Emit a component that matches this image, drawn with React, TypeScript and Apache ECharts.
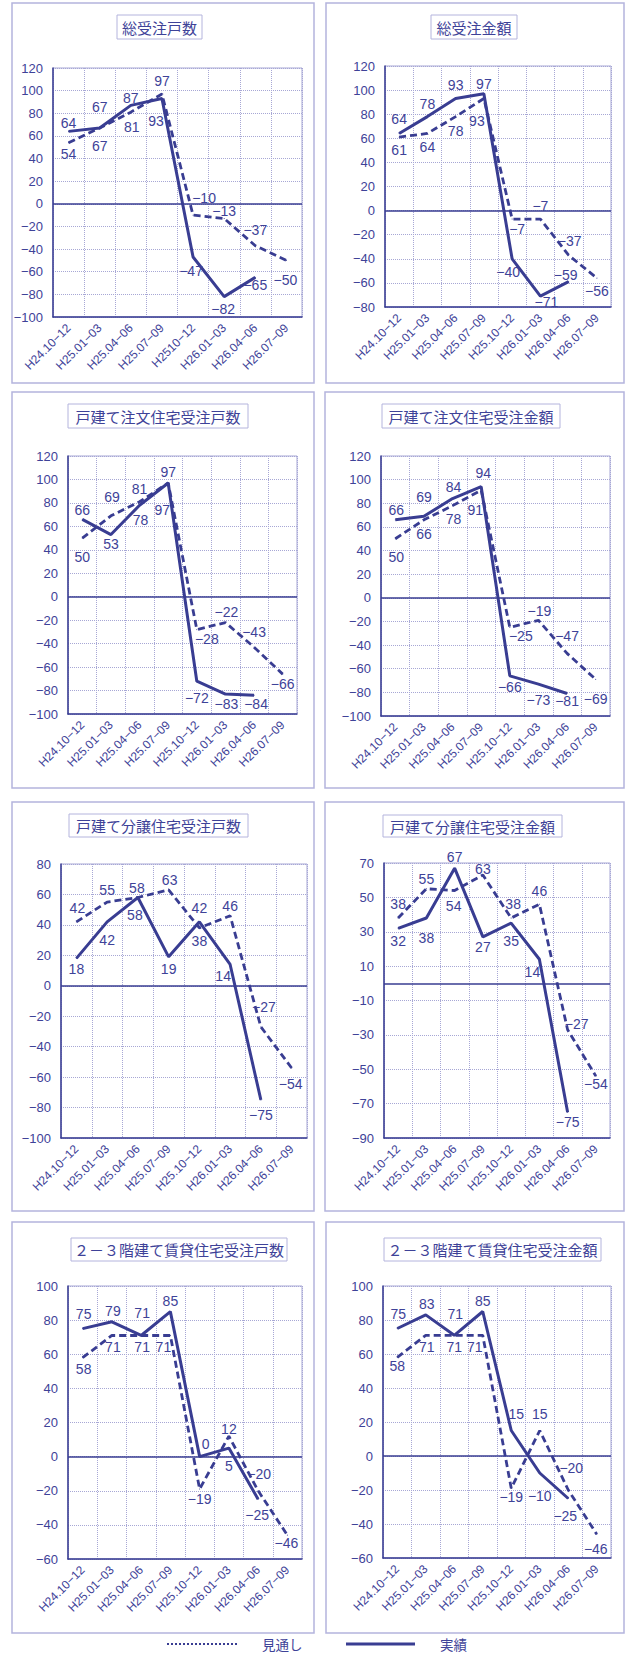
import React, { useEffect, useRef } from "react";
import * as echarts from "echarts";

// ---------- data ----------
const categories = ["H24.10−12", "H25.01−03", "H25.04−06", "H25.07−09", "H25.10−12", "H26.01−03", "H26.04−06", "H26.07−09"];
const categoriesChart1 = ["H24.10−12", "H25.01−03", "H25.04−06", "H25.07−09", "H2510−12", "H26.01−03", "H26.04−06", "H26.07−09"];

const titles = [
  "総受注戸数",
  "総受注金額",
  "戸建て注文住宅受注戸数",
  "戸建て注文住宅受注金額",
  "戸建て分譲住宅受注戸数",
  "戸建て分譲住宅受注金額",
  "２－３階建て賃貸住宅受注戸数",
  "２－３階建て賃貸住宅受注金額",
];

const legendNames = ["見通し", "実績"];

// 実績 (actual) and 見通し (forecast)
const totalUnitsActual = [64, 67, 87, 93, -47, -82, -65, null];
const totalUnitsForecast = [54, 67, 81, 97, -10, -13, -37, -50];
const totalAmountActual = [64, 78, 93, 97, -40, -71, -59, null];
const totalAmountForecast = [61, 64, 78, 93, -7, -7, -37, -56];
const customUnitsActual = [66, 53, 78, 97, -72, -83, -84, null];
const customUnitsForecast = [50, 69, 81, 97, -28, -22, -43, -66];
const customAmountActual = [66, 69, 84, 94, -66, -73, -81, null];
const customAmountForecast = [50, 66, 78, 91, -25, -19, -47, -69];
const specUnitsActual = [18, 42, 58, 19, 42, 14, -75, null];
const specUnitsForecast = [42, 55, 58, 63, 38, 46, -27, -54];
const specAmountActual = [32, 38, 67, 27, 35, 14, -75, null];
const specAmountForecast = [38, 55, 54, 63, 38, 46, -27, -54];
const rentalUnitsActual = [75, 79, 71, 85, 0, 5, -25, null];
const rentalUnitsForecast = [58, 71, 71, 71, -19, 12, -20, -46];
const rentalAmountActual = [75, 83, 71, 85, 15, -10, -25, null];
const rentalAmountForecast = [58, 71, 71, 71, -19, 15, -20, -46];

// ---------- layout / style ----------
type Off = [number, number] | null;
interface Panel {
  title: string;
  cats: string[];
  actual: (number | null)[];
  forecast: (number | null)[];
  yMin: number;
  yMax: number;
  box: number[];
  titleBox: number[];
  grid: number[];
  offA: Off[];
  offF: Off[];
}

const panels: Panel[] = [
  {
    title: titles[0], cats: categoriesChart1, actual: totalUnitsActual, forecast: totalUnitsForecast,
    yMin: -100, yMax: 120, box: [12, 3, 302, 380], titleBox: [117, 15, 85, 24], grid: [53, 68, 249, 249],
    offA: [[0, -8], [0, -21], [0, -7], [-6, 22], [-2, 14], [-1, 12], [0, 8], null],
    offF: [[0, 11], [0, 18], [1, 15], [0, -13], [11, -17], [0, -8], [0, -16], [-1, 20]],
  },
  {
    title: titles[1], cats: categories, actual: totalAmountActual, forecast: totalAmountForecast,
    yMin: -80, yMax: 120, box: [326, 3, 298, 380], titleBox: [431, 15, 86, 24], grid: [385, 66, 226, 241],
    offA: [[0, -14], [0, -13], [0, -14], [0, -10], [-4, 13], [6, 6], [-3, -7], null],
    offF: [[0, 13], [0, 14], [0, 14], [-7, 22], [5, 10], [0, -13], [1, -14], [0, 13]],
  },
  {
    title: titles[2], cats: categories, actual: customUnitsActual, forecast: customUnitsForecast,
    yMin: -100, yMax: 120, box: [12, 392, 302, 396], titleBox: [68, 404, 180, 24], grid: [68, 456, 229, 258],
    offA: [[0, -9], [0, 9], [1, 15], [0, -11], [0, 17], [1, 10], [2, 9], null],
    offF: [[0, 19], [1, -19], [0, -13], [-6, 27], [10, 9], [1, -11], [0, -15], [0, 10]],
  },
  {
    title: titles[3], cats: categories, actual: customAmountActual, forecast: customAmountForecast,
    yMin: -100, yMax: 120, box: [325, 392, 299, 396], titleBox: [382, 404, 178, 24], grid: [381, 456, 229, 260],
    offA: [[1, -10], [0, -19], [1, -12], [2, -14], [0, 11], [0, 16], [0, 7], null],
    offF: [[1, 18], [0, 14], [1, 13], [-6, 20], [11, 9], [1, -9], [0, -17], [0, 20]],
  },
  {
    title: titles[4], cats: categories, actual: specUnitsActual, forecast: specUnitsForecast,
    yMin: -100, yMax: 80, box: [12, 802, 302, 409], titleBox: [69, 814, 179, 23], grid: [61, 864, 246, 274],
    offA: [[0, 11], [0, 18], [-3, 18], [0, 12], [0, -14], [-7, 12], [0, 15], null],
    offF: [[1, -14], [0, -12], [-1, -9], [1, -10], [0, 13], [0, -10], [3, -20], [-1, 16]],
  },
  {
    title: titles[5], cats: categories, actual: specAmountActual, forecast: specAmountForecast,
    yMin: -90, yMax: 70, box: [325, 802, 299, 409], titleBox: [383, 815, 179, 22], grid: [384, 863, 226, 275],
    offA: [[0, 13], [0, 20], [0, -11], [0, 10], [0, 18], [-7, 13], [0, 10], null],
    offF: [[0, -14], [0, -10], [-1, 15], [0, -6], [2, -14], [0, -13], [9, -6], [0, 8]],
  },
  {
    title: titles[6], cats: categories, actual: rentalUnitsActual, forecast: rentalUnitsForecast,
    yMin: -60, yMax: 100, box: [12, 1222, 302, 411], titleBox: [71, 1238, 216, 23], grid: [68, 1286, 234, 273],
    offA: [[1, -15], [1, -11], [1, -22], [0, -11], [6, -13], [0, 18], [-1, 16], null],
    offF: [[1, 11], [1, 12], [1, 12], [-7, 12], [0, 10], [0, -7], [1, -17], [-1, 8]],
  },
  {
    title: titles[7], cats: categories, actual: rentalAmountActual, forecast: rentalAmountForecast,
    yMin: -60, yMax: 100, box: [326, 1222, 298, 411], titleBox: [384, 1238, 217, 23], grid: [383, 1286, 228, 272],
    offA: [[1, -15], [1, -11], [1, -21], [0, -11], [5, -17], [0, 23], [-3, 17], null],
    offF: [[0, 9], [1, 12], [0, 12], [-8, 12], [0, 9], [0, -17], [3, -22], [-1, 15]],
  },
];

const W = 625;
const H = 1656;
const NAVY = "#393d92";
const TEXT = "#3e4298";
const GRIDC = "#a7a7d5";
const FRAME = "#b4b4dd";
const NUMFONT = "'Liberation Sans', Arial, 'Noto Sans CJK JP', sans-serif";
const JFONT = "'Noto Sans CJK JP', 'Noto Sans', sans-serif";
const LEGEND_Y = 1644;

const fmt = (v: any) => {
  const n = Number(v);
  return n < 0 ? "−" + Math.abs(n) : String(n);
};

function buildOption() {
  const grid: any[] = [];
  const xAxis: any[] = [];
  const yAxis: any[] = [];
  const series: any[] = [];
  const graphic: any[] = [];

  panels.forEach((p, i) => {
    grid.push({
      left: p.grid[0], top: p.grid[1], width: p.grid[2], height: p.grid[3],
      show: true, borderColor: GRIDC, borderWidth: 1, backgroundColor: "transparent",
    });
    xAxis.push({
      type: "category", gridIndex: i, data: p.cats, boundaryGap: true,
      axisLine: { onZero: false, lineStyle: { color: NAVY, width: 1.5 } },
      axisTick: { show: false },
      axisLabel: { interval: 0, rotate: 45, fontSize: 12, color: TEXT, margin: 9, fontFamily: NUMFONT },
      splitLine: { show: true, interval: 0, lineStyle: { color: GRIDC, type: "dotted", width: 1 } },
    });
    yAxis.push({
      type: "value", gridIndex: i, min: p.yMin, max: p.yMax, interval: 20,
      axisLine: { show: true, lineStyle: { color: NAVY, width: 1.5 } },
      axisTick: { show: false },
      axisLabel: { fontSize: 13, color: TEXT, margin: 10, fontFamily: NUMFONT, formatter: fmt },
      splitLine: { show: true, lineStyle: { color: GRIDC, type: "dotted", width: 1 } },
    });

    const mk = (name: string, vals: (number | null)[], offs: Off[], dashed: boolean) => ({
      type: "line",
      name,
      xAxisIndex: i,
      yAxisIndex: i,
      data: vals.map((v, k) =>
        v == null ? "-" : { value: v, label: { offset: offs[k] || [0, 0] } }
      ),
      symbol: "circle",
      symbolSize: 1,
      showSymbol: true,
      silent: true,
      itemStyle: { color: NAVY },
      lineStyle: { color: NAVY, width: dashed ? 2.8 : 3, type: dashed ? [7, 4] : "solid" },
      label: {
        show: true, position: "inside", fontSize: 14, color: TEXT, fontFamily: NUMFONT,
        formatter: (pp: any) => fmt(pp.value),
      },
      emphasis: { disabled: true },
      z: dashed ? 3 : 4,
      ...(dashed
        ? {
            markLine: {
              silent: true, symbol: "none", label: { show: false },
              lineStyle: { color: NAVY, width: 1.5, type: "solid" },
              data: [{ yAxis: 0 }],
            },
          }
        : {}),
    });
    series.push(mk(legendNames[0], p.forecast, p.offF, true));
    series.push(mk(legendNames[1], p.actual, p.offA, false));

    graphic.push({
      type: "rect", silent: true,
      shape: { x: p.box[0], y: p.box[1], width: p.box[2], height: p.box[3] },
      style: { fill: "rgba(0,0,0,0)", stroke: FRAME, lineWidth: 1.5 },
    });
    graphic.push({
      type: "rect", silent: true,
      shape: { x: p.titleBox[0], y: p.titleBox[1], width: p.titleBox[2], height: p.titleBox[3] },
      style: { fill: "#ffffff", stroke: FRAME, lineWidth: 1 },
    });
    graphic.push({
      type: "text", silent: true,
      style: {
        text: p.title,
        x: p.titleBox[0] + p.titleBox[2] / 2,
        y: p.titleBox[1] + p.titleBox[3] / 2,
        align: "center", verticalAlign: "middle",
        textAlign: "center", textVerticalAlign: "middle",
        fill: TEXT, fontSize: 15, fontFamily: JFONT,
      },
    });
  });

  // legend
  graphic.push({
    type: "line", silent: true,
    shape: { x1: 167, y1: LEGEND_Y, x2: 237, y2: LEGEND_Y },
    style: { stroke: NAVY, lineWidth: 2, lineDash: [2, 2] },
  });
  graphic.push({
    type: "text", silent: true,
    style: {
      text: legendNames[0], x: 262, y: LEGEND_Y, align: "left", verticalAlign: "middle",
      textAlign: "left", textVerticalAlign: "middle", fill: TEXT, fontSize: 13.5, fontFamily: JFONT,
    },
  });
  graphic.push({
    type: "line", silent: true,
    shape: { x1: 346, y1: LEGEND_Y, x2: 415, y2: LEGEND_Y },
    style: { stroke: NAVY, lineWidth: 3 },
  });
  graphic.push({
    type: "text", silent: true,
    style: {
      text: legendNames[1], x: 440, y: LEGEND_Y, align: "left", verticalAlign: "middle",
      textAlign: "left", textVerticalAlign: "middle", fill: TEXT, fontSize: 13.5, fontFamily: JFONT,
    },
  });

  return {
    animation: false,
    backgroundColor: "#ffffff",
    textStyle: { fontFamily: NUMFONT },
    grid,
    xAxis,
    yAxis,
    series,
    graphic,
  };
}

export default function App() {
  const ref = useRef<HTMLDivElement>(null);
  useEffect(() => {
    document.body.style.margin = "0";
    const chart = echarts.init(ref.current as HTMLDivElement, null, { renderer: "svg", width: W, height: H });
    chart.setOption(buildOption() as any);
    return () => chart.dispose();
  }, []);
  return <div ref={ref} style={{ width: W, height: H }} />;
}
